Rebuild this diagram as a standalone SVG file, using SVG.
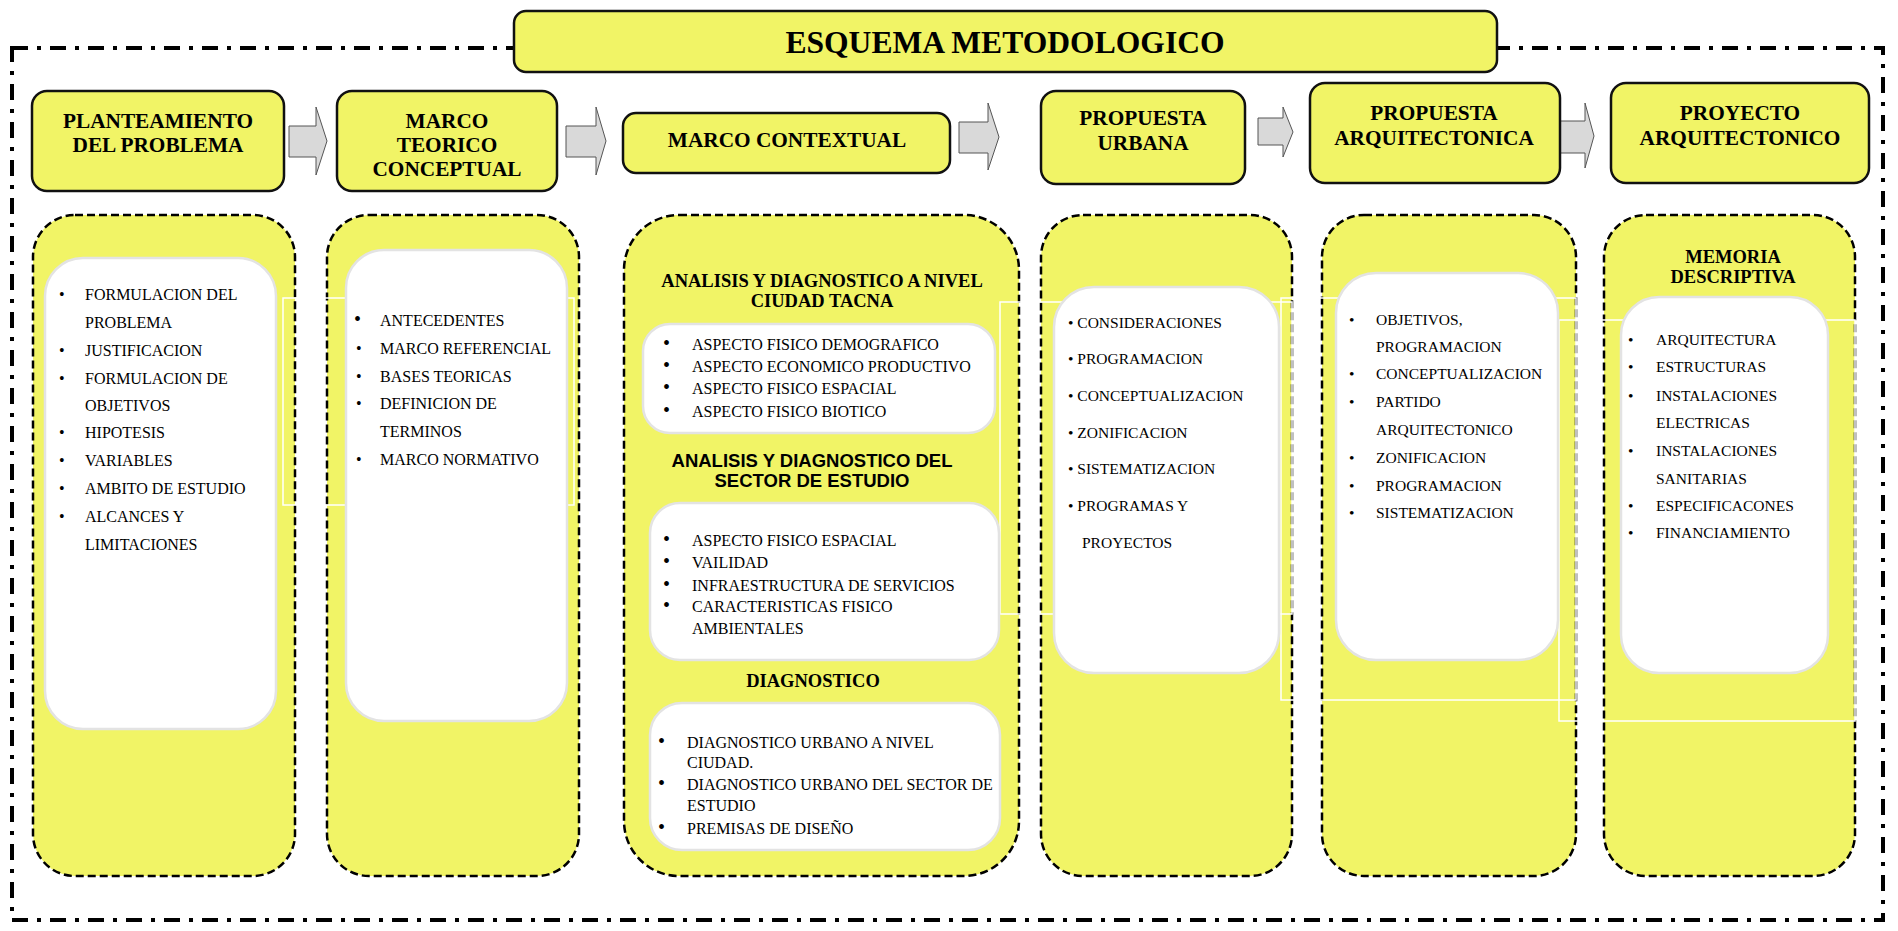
<svg xmlns="http://www.w3.org/2000/svg" width="1898" height="931" viewBox="0 0 1898 931">
<style>
.hdr{fill:#F1F466;stroke:#111;stroke-width:2.5}
.cont{fill:#F1F466;stroke:#000;stroke-width:2.5;stroke-dasharray:8 4}
.wb{fill:#fff;stroke:#e3e3e3;stroke-width:2.5}
.art{fill:none;stroke:#fff;stroke-width:1.5}
.arr{fill:#d9d9d9;stroke:#555;stroke-width:1}
.ht{font-family:"Liberation Serif","Times New Roman",serif;font-weight:bold;font-size:21.3px;fill:#000;text-anchor:middle}
.sh{font-family:"Liberation Serif","Times New Roman",serif;font-weight:bold;font-size:18.5px;fill:#000;text-anchor:middle}
.sa{font-family:"Liberation Sans",Arial,sans-serif;font-weight:bold;font-size:18.5px;fill:#000;text-anchor:middle}
.it{font-family:"Liberation Serif","Times New Roman",serif;font-size:16px;fill:#000}
.is{font-family:"Liberation Serif","Times New Roman",serif;font-size:15.5px;fill:#000}
</style>
<rect x="0" y="0" width="1898" height="931" fill="#fff"/>
<rect id="frame" x="12" y="48" width="1871" height="872" fill="none" stroke="#000" stroke-width="4" stroke-dasharray="16 9 4 9"/>
<g id="title">
<rect class="hdr" x="514" y="11" width="983" height="61" rx="12"/>
<text x="1005" y="53" style="font-family:'Liberation Serif','Times New Roman',serif;font-weight:bold;font-size:31.6px;text-anchor:middle">ESQUEMA METODOLOGICO</text>
</g>
<g id="connectors">
<polygon class="arr" points="289,126 316,126 316,107 327,141 316,175 316,157 289,157"/>
<polygon class="arr" points="566,126 596,126 596,107 606,141 596,175 596,157 566,157"/>
<polygon class="arr" points="959,122 988,122 988,103 999,137 988,170 988,153 959,153"/>
<polygon class="arr" points="1258,118 1283,118 1283,107 1293,132 1283,157 1283,145 1258,145"/>
<polygon class="arr" points="1558,121 1585,121 1585,103 1594,136 1585,168 1585,153 1558,153"/>
</g>
<g id="h1"><rect class="hdr" x="32" y="91" width="252" height="100" rx="15"/>
<text class="ht" x="158" y="128">PLANTEAMIENTO</text><text class="ht" x="158" y="152">DEL PROBLEMA</text></g>
<g id="h2"><rect class="hdr" x="337" y="91" width="220" height="100" rx="15"/>
<text class="ht" x="447" y="128">MARCO</text><text class="ht" x="447" y="152">TEORICO</text><text class="ht" x="447" y="176">CONCEPTUAL</text></g>
<g id="h3"><rect class="hdr" x="623" y="113" width="327" height="60" rx="13"/>
<text class="ht" x="787" y="147">MARCO CONTEXTUAL</text></g>
<g id="h4"><rect class="hdr" x="1041" y="91" width="204" height="93" rx="15"/>
<text class="ht" x="1143" y="125">PROPUESTA</text><text class="ht" x="1143" y="150">URBANA</text></g>
<g id="h5"><rect class="hdr" x="1310" y="83" width="250" height="100" rx="15"/>
<text class="ht" x="1434" y="120">PROPUESTA</text><text class="ht" x="1434" y="145">ARQUITECTONICA</text></g>
<g id="h6"><rect class="hdr" x="1611" y="83" width="258" height="100" rx="15"/>
<text class="ht" x="1740" y="120">PROYECTO</text><text class="ht" x="1740" y="145">ARQUITECTONICO</text></g>

<g id="c1"><rect class="cont" x="33" y="215" width="262" height="661" rx="42"/></g>
<g id="c2"><rect class="cont" x="327" y="215" width="252" height="661" rx="42"/></g>
<g id="c3"><rect class="cont" x="624" y="215" width="395" height="661" rx="55"/></g>
<g id="c4"><rect class="cont" x="1041" y="215" width="251" height="661" rx="42"/></g>
<g id="c5"><rect class="cont" x="1322" y="215" width="254" height="661" rx="42"/></g>
<g id="c6"><rect class="cont" x="1604" y="215" width="251" height="661" rx="42"/></g>

<g id="frames">
<rect class="art" x="283" y="298" width="291" height="207"/>
<rect class="art" x="1000" y="302" width="292" height="312"/>
<rect class="art" x="1281" y="298" width="295" height="402"/>
<rect class="art" x="1559" y="320" width="296" height="401"/>
</g>

<g id="list1"><rect class="wb" x="45" y="258" width="231" height="471" rx="38"/>
<text class="it"><tspan x="59" y="300">•</tspan><tspan x="85" y="300">FORMULACION DEL</tspan><tspan x="85" y="328">PROBLEMA</tspan><tspan x="59" y="356">•</tspan><tspan x="85" y="356">JUSTIFICACION</tspan><tspan x="59" y="384">•</tspan><tspan x="85" y="384">FORMULACION DE</tspan><tspan x="85" y="411">OBJETIVOS</tspan><tspan x="59" y="438">•</tspan><tspan x="85" y="438">HIPOTESIS</tspan><tspan x="59" y="466">•</tspan><tspan x="85" y="466">VARIABLES</tspan><tspan x="59" y="494">•</tspan><tspan x="85" y="494">AMBITO DE ESTUDIO</tspan><tspan x="59" y="522">•</tspan><tspan x="85" y="522">ALCANCES Y</tspan><tspan x="85" y="550">LIMITACIONES</tspan></text></g>

<g id="list2"><rect class="wb" x="346" y="250" width="221" height="471" rx="38"/>
<text class="it"><tspan x="354" y="326" style="font-size:20px">•</tspan><tspan x="380" y="326">ANTECEDENTES</tspan><tspan x="356" y="354">•</tspan><tspan x="380" y="354">MARCO REFERENCIAL</tspan><tspan x="356" y="382">•</tspan><tspan x="380" y="382">BASES TEORICAS</tspan><tspan x="356" y="409">•</tspan><tspan x="380" y="409">DEFINICION DE</tspan><tspan x="380" y="437">TERMINOS</tspan><tspan x="356" y="465">•</tspan><tspan x="380" y="465">MARCO NORMATIVO</tspan></text></g>

<g id="list3a">
<text class="sh" x="822" y="287">ANALISIS Y DIAGNOSTICO A NIVEL</text><text class="sh" x="822" y="307">CIUDAD TACNA</text>
<rect class="wb" x="643" y="324" width="352" height="109" rx="27"/>
<text class="it"><tspan x="663" y="350" style="font-size:20px">•</tspan><tspan x="692" y="350">ASPECTO FISICO DEMOGRAFICO</tspan><tspan x="663" y="372" style="font-size:20px">•</tspan><tspan x="692" y="372">ASPECTO ECONOMICO PRODUCTIVO</tspan><tspan x="663" y="394" style="font-size:20px">•</tspan><tspan x="692" y="394">ASPECTO FISICO ESPACIAL</tspan><tspan x="663" y="417" style="font-size:20px">•</tspan><tspan x="692" y="417">ASPECTO FISICO BIOTICO</tspan></text></g>

<g id="list3b">
<text class="sa" x="812" y="467">ANALISIS Y DIAGNOSTICO DEL</text><text class="sa" x="812" y="487">SECTOR DE ESTUDIO</text>
<rect class="wb" x="650" y="503" width="349" height="157" rx="30"/>
<text class="it"><tspan x="663" y="546" style="font-size:20px">•</tspan><tspan x="692" y="546">ASPECTO FISICO ESPACIAL</tspan><tspan x="663" y="568" style="font-size:20px">•</tspan><tspan x="692" y="568">VAILIDAD</tspan><tspan x="663" y="591" style="font-size:20px">•</tspan><tspan x="692" y="591">INFRAESTRUCTURA DE SERVICIOS</tspan><tspan x="663" y="612" style="font-size:20px">•</tspan><tspan x="692" y="612">CARACTERISTICAS FISICO</tspan><tspan x="692" y="634">AMBIENTALES</tspan></text></g>

<g id="list3c">
<text class="sh" x="813" y="687">DIAGNOSTICO</text>
<rect class="wb" x="650" y="703" width="350" height="147" rx="32"/>
<text class="it"><tspan x="658" y="748" style="font-size:20px">•</tspan><tspan x="687" y="748">DIAGNOSTICO URBANO A NIVEL</tspan><tspan x="687" y="768">CIUDAD.</tspan><tspan x="658" y="790" style="font-size:20px">•</tspan><tspan x="687" y="790">DIAGNOSTICO URBANO DEL SECTOR DE</tspan><tspan x="687" y="811">ESTUDIO</tspan><tspan x="658" y="834" style="font-size:20px">•</tspan><tspan x="687" y="834">PREMISAS DE DISEÑO</tspan></text></g>

<g id="list4"><rect class="wb" x="1054" y="287" width="225" height="386" rx="40"/>
<text class="is"><tspan x="1068" y="328">• CONSIDERACIONES</tspan><tspan x="1068" y="364">• PROGRAMACION</tspan><tspan x="1068" y="401">• CONCEPTUALIZACION</tspan><tspan x="1068" y="438">• ZONIFICACION</tspan><tspan x="1068" y="474">• SISTEMATIZACION</tspan><tspan x="1068" y="511">• PROGRAMAS Y</tspan><tspan x="1082" y="548">PROYECTOS</tspan></text></g>

<g id="list5"><rect class="wb" x="1336" y="273" width="222" height="387" rx="40"/>
<text class="is"><tspan x="1349" y="325">•</tspan><tspan x="1376" y="325">OBJETIVOS,</tspan><tspan x="1376" y="352">PROGRAMACION</tspan><tspan x="1349" y="379">•</tspan><tspan x="1376" y="379">CONCEPTUALIZACION</tspan><tspan x="1349" y="407">•</tspan><tspan x="1376" y="407">PARTIDO</tspan><tspan x="1376" y="435">ARQUITECTONICO</tspan><tspan x="1349" y="463">•</tspan><tspan x="1376" y="463">ZONIFICACION</tspan><tspan x="1349" y="491">•</tspan><tspan x="1376" y="491">PROGRAMACION</tspan><tspan x="1349" y="518">•</tspan><tspan x="1376" y="518">SISTEMATIZACION</tspan></text></g>

<g id="list6">
<text class="sh" x="1733" y="263">MEMORIA</text><text class="sh" x="1733" y="283">DESCRIPTIVA</text>
<rect class="wb" x="1621" y="297" width="207" height="376" rx="38"/>
<text class="is"><tspan x="1628" y="345">•</tspan><tspan x="1656" y="345">ARQUITECTURA</tspan><tspan x="1628" y="372">•</tspan><tspan x="1656" y="372">ESTRUCTURAS</tspan><tspan x="1628" y="401">•</tspan><tspan x="1656" y="401">INSTALACIONES</tspan><tspan x="1656" y="428">ELECTRICAS</tspan><tspan x="1628" y="456">•</tspan><tspan x="1656" y="456">INSTALACIONES</tspan><tspan x="1656" y="484">SANITARIAS</tspan><tspan x="1628" y="511">•</tspan><tspan x="1656" y="511">ESPECIFICACONES</tspan><tspan x="1628" y="538">•</tspan><tspan x="1656" y="538">FINANCIAMIENTO</tspan></text></g>
</svg>
